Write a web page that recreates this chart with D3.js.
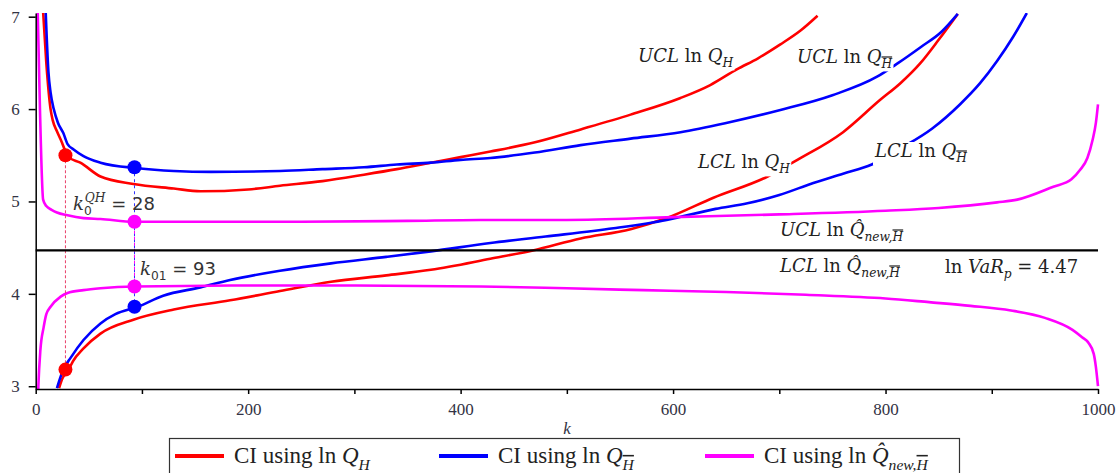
<!DOCTYPE html>
<html>
<head>
<meta charset="utf-8">
<script src="https://cdn.jsdelivr.net/npm/d3@7"></script>
<style>
body { margin: 0; background: #fff; }
svg { display: block; }
.axis text { font-family: "Liberation Serif", serif; font-size: 17px; fill: #333344; }
.axis path, .axis line { stroke: #000; stroke-width: 1.5; }
</style>
</head>
<body>
<svg width="1119" height="473"></svg>
<script>
// k (sample size) and ln-scale confidence limits
var redUclK = [7, 10, 14, 16, 20, 23.5, 31, 42, 61, 92, 130, 155, 200, 230, 270, 309, 340, 372, 400, 428, 470, 513, 560, 607, 635, 660, 680, 701, 720, 736];
var redUclV = [7.05, 6.5, 6.0, 5.88, 5.76, 5.67, 5.48, 5.42, 5.27, 5.19, 5.14, 5.11, 5.13, 5.17, 5.22, 5.29, 5.35, 5.42, 5.48, 5.54, 5.64, 5.78, 5.94, 6.12, 6.26, 6.43, 6.55, 6.70, 6.85, 7.01];

var redLclK = [22, 25, 31, 35, 45, 61, 92, 130, 183, 230, 278, 330, 372, 428, 468, 513, 560, 594, 638, 689, 717, 760, 795, 814, 833, 850, 868];
var redLclV = [2.98, 3.08, 3.18, 3.27, 3.41, 3.57, 3.72, 3.83, 3.93, 4.03, 4.13, 4.20, 4.26, 4.38, 4.47, 4.60, 4.70, 4.82, 5.04, 5.27, 5.45, 5.75, 6.10, 6.28, 6.50, 6.75, 7.03];

var blueUclK = [9.4, 12, 14, 17, 21, 26, 30, 36, 45, 61, 96, 130, 165, 230, 270, 309, 340, 372, 400, 428, 470, 513, 560, 607, 650, 701, 750, 792, 812, 833, 853, 868];
var blueUclV = [7.05, 6.4, 6.18, 6.0, 5.85, 5.74, 5.62, 5.56, 5.49, 5.42, 5.36, 5.33, 5.32, 5.33, 5.35, 5.37, 5.40, 5.42, 5.45, 5.47, 5.53, 5.61, 5.68, 5.75, 5.85, 5.99, 6.15, 6.35, 6.50, 6.67, 6.84, 7.03];

var blueLclK = [20, 26, 33, 45, 61, 75, 96, 120, 155, 183, 230, 278, 330, 372, 428, 480, 544, 594, 640, 670, 700, 732, 760, 787, 815, 844, 870, 889, 905, 920, 933];
var blueLclV = [2.98, 3.18, 3.31, 3.50, 3.68, 3.78, 3.86, 3.98, 4.07, 4.15, 4.25, 4.33, 4.40, 4.46, 4.55, 4.62, 4.71, 4.80, 4.92, 4.98, 5.07, 5.20, 5.30, 5.40, 5.58, 5.79, 6.05, 6.28, 6.52, 6.78, 7.04];

var magUclK = [1, 2, 4, 7, 10, 15, 20, 30, 45, 61, 93, 150, 250, 350, 419, 500, 600, 700, 800, 850, 905, 924, 958, 975, 983, 990, 995, 998, 1000];
var magUclV = [7.6, 7.0, 6.0, 5.02, 4.95, 4.91, 4.88, 4.85, 4.82, 4.81, 4.78, 4.78, 4.78, 4.79, 4.80, 4.80, 4.83, 4.86, 4.90, 4.93, 4.99, 5.02, 5.16, 5.24, 5.34, 5.47, 5.67, 5.85, 6.05];

var magLclK = [1, 2.5, 4.4, 7.5, 10, 14, 23.5, 30, 45, 61, 93, 200, 300, 419, 500, 572, 650, 725, 800, 841, 880, 918, 950, 976, 985, 991, 996, 998, 1000];
var magLclV = [2.4, 3.0, 3.39, 3.64, 3.78, 3.86, 3.97, 4.01, 4.04, 4.06, 4.08, 4.09, 4.09, 4.08, 4.06, 4.04, 4.02, 3.99, 3.95, 3.91, 3.87, 3.82, 3.74, 3.61, 3.53, 3.47, 3.35, 3.21, 3.0];

var lnVaR = 4.47;
var k0 = 28, k01 = 93;
var redDots = [5.50, 3.18];       // at k0
var blueDots = [5.37, 3.86];      // at k01
var magDots = [4.78, 4.08];       // at k01

var xTicks = d3.range(0, 1001, 100);
var yTicks = [3, 4, 5, 6, 7];

var svg = d3.select("svg");
var x = d3.scaleLinear().domain([0, 1000]).range([35.7, 1098]);
var y = d3.scaleLinear().domain([2.97, 7.04]).range([389, 13]);

svg.append("clipPath").attr("id", "plot")
  .append("rect").attr("x", 34).attr("y", 13).attr("width", 1068).attr("height", 376);

var g = svg.append("g").attr("clip-path", "url(#plot)");

function zipKV(ks, vs) { return ks.map(function(k, i) { return [k, vs[i]]; }); }
var line = d3.line()
  .x(function(d) { return x(d[0]); })
  .y(function(d) { return y(d[1]); })
  .curve(d3.curveMonotoneX);

var series = [
  {k: redUclK, v: redUclV, c: "#ff0000"},
  {k: redLclK, v: redLclV, c: "#ff0000"},
  {k: blueUclK, v: blueUclV, c: "#0000ff"},
  {k: blueLclK, v: blueLclV, c: "#0000ff"},
  {k: magUclK, v: magUclV, c: "#ff00ff"},
  {k: magLclK, v: magLclV, c: "#ff00ff"}
];

g.selectAll(".curve")
  .data(series)
  .enter()
  .append("path")
  .attr("class", "curve")
  .attr("fill", "none")
  .attr("stroke", function(d) { return d.c; })
  .attr("stroke-width", 2.6)
  .attr("d", function(d) { return line(zipKV(d.k, d.v)); });

// dashed guides at k0 and k01
g.append("line")
  .attr("x1", x(k0)).attr("x2", x(k0))
  .attr("y1", y(redDots[0])).attr("y2", y(redDots[1]))
  .attr("stroke", "#e8406a").attr("stroke-width", 1).attr("stroke-dasharray", "3,2");
g.append("line")
  .attr("x1", x(k01)).attr("x2", x(k01))
  .attr("y1", y(blueDots[0])).attr("y2", y(blueDots[1]))
  .attr("stroke", "#3030ff").attr("stroke-width", 1).attr("stroke-dasharray", "3,3");
g.append("line")
  .attr("x1", x(k01)).attr("x2", x(k01))
  .attr("y1", y(magDots[0])).attr("y2", y(magDots[1]))
  .attr("stroke", "#ff00ff").attr("stroke-width", 1).attr("stroke-dasharray", "3,3").attr("stroke-dashoffset", 3);

// ln VaR line
g.append("line")
  .attr("x1", x(0)).attr("x2", x(1000))
  .attr("y1", y(lnVaR)).attr("y2", y(lnVaR))
  .attr("stroke", "#000").attr("stroke-width", 2.2);

var dots = [
  {k: k0, v: redDots[0], c: "#ff0000"}, {k: k0, v: redDots[1], c: "#ff0000"},
  {k: k01, v: blueDots[0], c: "#0000ff"}, {k: k01, v: blueDots[1], c: "#0000ff"},
  {k: k01, v: magDots[0], c: "#ff00ff"}, {k: k01, v: magDots[1], c: "#ff00ff"}
];
svg.selectAll(".dot")
  .data(dots)
  .enter()
  .append("circle")
  .attr("class", "dot")
  .attr("cx", function(d) { return x(d.k); })
  .attr("cy", function(d) { return y(d.v); })
  .attr("r", 7)
  .attr("fill", function(d) { return d.c; });

// axes
var xAxis = svg.append("g").attr("class", "axis")
  .attr("transform", "translate(0,389)")
  .call(d3.axisBottom(x).tickValues(xTicks).tickSize(5).tickSizeOuter(0)
    .tickFormat(function(d) { return d % 200 === 0 ? d : ""; }));
xAxis.selectAll("text").attr("y", 26).attr("dy", null);

svg.append("g").attr("class", "axis")
  .attr("transform", "translate(35.7,0)")
  .call(d3.axisLeft(y).tickValues(yTicks).tickFormat(d3.format("d"))
    .tickSize(7).tickPadding(9).tickSizeOuter(0));

svg.append("text")
  .attr("x", 567).attr("y", 434)
  .attr("text-anchor", "middle")
  .style("font-family", "Liberation Serif").style("font-style", "italic").style("font-size", "17px")
  .style("fill", "#333344")
  .text("k");

// text with sub/superscripts
function mathText(parent, px, py, parts, size, family, color) {
  var t = parent.append("text").attr("x", px).attr("y", py)
    .style("font-family", family).style("font-size", size + "px").style("fill", color || "#222");
  var cur = 0;
  parts.forEach(function(p) {
    var off = p.sub ? size * 0.3 : (p.sup ? -size * 0.45 : 0);
    var s = t.append("tspan").attr("dy", off - cur).text(p.t);
    cur = off;
    if (p.sub || p.sup) s.style("font-size", (size * 0.68) + "px");
    if (p.i) s.style("font-style", "italic");
    if (p.f) s.style("font-family", p.f);
    if (p.o) s.style("text-decoration", "overline");
    if (p.dx) s.attr("dx", p.dx);
  });
  return t;
}

function boxed(px, py, parts, size, family) {
  var lg = svg.append("g");
  var t = mathText(lg, px, py, parts, size, family, "#222");
  var b = t.node().getBBox();
  lg.insert("rect", "text")
    .attr("x", b.x - 1).attr("y", b.y + 2).attr("width", b.width + 2).attr("height", b.height - 2)
    .attr("fill", "#fff");
}

var ser = "DejaVu Serif";
boxed(638, 62, [{t: "UCL", i: 1}, {t: " ln "}, {t: "Q", i: 1}, {t: "H", i: 1, sub: 1}], 18, ser);
boxed(797, 63, [{t: "UCL", i: 1}, {t: " ln "}, {t: "Q", i: 1}, {t: "H", i: 1, sub: 1, o: 1}], 18, ser);
boxed(698, 168, [{t: "LCL", i: 1}, {t: " ln "}, {t: "Q", i: 1}, {t: "H", i: 1, sub: 1}], 18, ser);
boxed(875, 157, [{t: "LCL", i: 1}, {t: " ln "}, {t: "Q", i: 1}, {t: "H", i: 1, sub: 1, o: 1}], 18, ser);
boxed(780, 236, [{t: "UCL", i: 1}, {t: " ln "}, {t: "Q\u0302", i: 1}, {t: "new,", i: 1, sub: 1}, {t: "H", i: 1, sub: 1, o: 1}], 18, ser);
boxed(780, 272, [{t: "LCL", i: 1}, {t: " ln "}, {t: "Q\u0302", i: 1}, {t: "new,", i: 1, sub: 1}, {t: "H", i: 1, sub: 1, o: 1}], 18, ser);
boxed(945, 273, [{t: "ln "}, {t: "VaR", i: 1}, {t: "p", i: 1, sub: 1}, {t: " = 4.47"}], 18, ser);

mathText(svg, 73, 210, [{t: "k", i: 1, f: ser}, {t: "0", sub: 1}, {t: "QH", i: 1, sup: 1, f: ser, dx: -7}, {t: " = 28"}], 18, "DejaVu Sans", "#333");
mathText(svg, 140, 275, [{t: "k", i: 1, f: ser}, {t: "01", sub: 1}, {t: " = 93"}], 18, "DejaVu Sans", "#333");

// legend
var leg = svg.append("g");
leg.append("rect").attr("x", 169.5).attr("y", 438.5).attr("width", 790).attr("height", 40)
  .attr("fill", "#fff").attr("stroke", "#333").attr("stroke-width", 1.2);
var legItems = [
  {c: "#ff0000", x1: 175, parts: [{t: "CI using ln "}, {t: "Q", i: 1}, {t: "H", i: 1, sub: 1}]},
  {c: "#0000ff", x1: 439, parts: [{t: "CI using ln "}, {t: "Q", i: 1}, {t: "H", i: 1, sub: 1, o: 1}]},
  {c: "#ff00ff", x1: 705, parts: [{t: "CI using ln "}, {t: "Q\u0302", i: 1}, {t: "new,", i: 1, sub: 1}, {t: "H", i: 1, sub: 1, o: 1}]}
];
legItems.forEach(function(d) {
  leg.append("line").attr("x1", d.x1).attr("x2", d.x1 + 49).attr("y1", 456).attr("y2", 456)
    .attr("stroke", d.c).attr("stroke-width", 4);
  mathText(leg, d.x1 + 59, 463, d.parts, 23, "Liberation Serif", "#222");
});
</script>
</body>
</html>
